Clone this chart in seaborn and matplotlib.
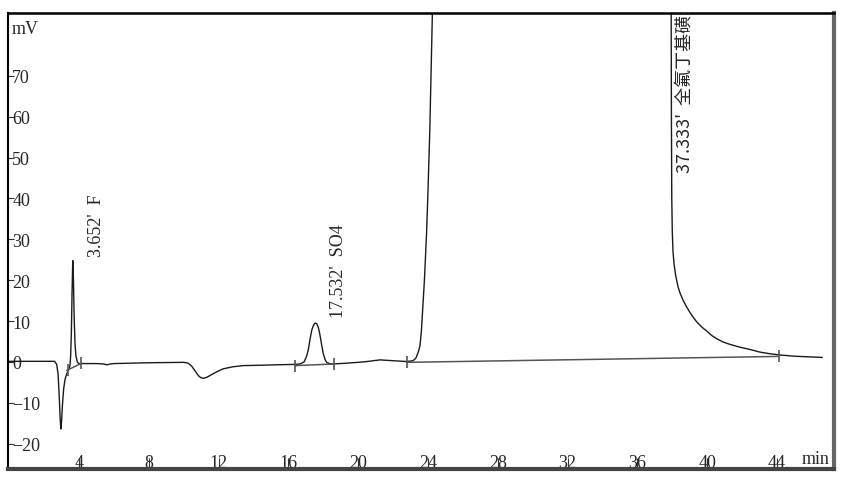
import numpy as np
import pandas as pd
import matplotlib
matplotlib.use("Agg")
import matplotlib.pyplot as plt
import seaborn as sns

sns.set_style("white")
plt.rcParams["font.family"] = ["Liberation Serif", "DejaVu Serif"]

# chromatogram trace (time in min, signal in mV)
time_min = [0.0, 2.6, 2.72, 2.8, 2.86, 2.92, 2.96, 3.0, 3.05, 3.12, 3.2,
            3.3, 3.4, 3.48, 3.52, 3.56, 3.6, 3.64, 3.68, 3.72, 3.77, 3.82,
            3.9, 3.98, 4.3, 5.0, 5.4, 5.6, 5.8, 6.0, 8.0, 10.0, 10.25, 10.45,
            10.65, 10.85, 11.0, 11.15, 11.35, 11.6, 11.9, 12.25, 12.8, 13.4,
            14.5, 15.3, 16.4, 16.67, 16.9, 17.05, 17.15, 17.24, 17.34, 17.43,
            17.5, 17.56, 17.63, 17.71, 17.78, 17.85, 17.92, 18.0, 18.1, 18.19,
            18.35, 18.57, 19.34, 20.0, 20.5, 21.25, 22.0, 22.78, 23.14, 23.3,
            23.45, 23.54, 23.62, 23.73, 23.8, 23.92, 24.0, 24.1, 24.25, 24.5,
            37.9, 37.95, 37.97, 38.0, 38.04, 38.1, 38.2, 38.34, 38.45, 38.61,
            38.8, 39.0, 39.2, 39.4, 39.7, 39.96, 40.25, 40.54, 40.9, 41.3,
            41.88, 42.5, 43.03, 43.6, 44.17, 45.0, 45.8, 46.6]
signal_mv = [0.15, 0.15, -0.6, -3.0, -8.0, -14.0, -16.4, -14.5, -10.5, -6.5,
             -4.2, -2.9, -1.9, -0.9, 1.5, 7.0, 17.0, 24.8, 20.0, 11.0, 4.5,
             1.5, 0.0, -0.4, -0.4, -0.4, -0.5, -0.7, -0.5, -0.4, -0.2, -0.1,
             -0.3, -1.0, -2.2, -3.4, -3.9, -4.0, -3.7, -3.1, -2.4, -1.7,
             -1.2, -0.9, -0.8, -0.7, -0.6, -0.5, 0.0, 1.5, 3.2, 5.6, 7.8,
             8.9, 9.4, 9.5, 9.3, 8.5, 7.2, 5.6, 3.8, 2.0, 0.6, -0.1, -0.4,
             -0.5, -0.3, -0.1, 0.1, 0.5, 0.3, 0.1, 0.3, 0.9, 2.5, 4.0, 7.5,
             15.4, 20.5, 31.8, 42.0, 56.3, 85.2, 150.0, 150.0, 60.0, 40.0,
             32.0, 27.0, 24.0, 21.0, 18.2, 16.8, 15.2, 13.6, 12.2, 10.9,
             9.8, 8.5, 7.6, 6.5, 5.7, 4.9, 4.3, 3.6, 3.0, 2.4, 2.0, 1.7, 1.4,
             1.25, 1.1]

# integration baselines (start / end points)
bl_start_t = [3.29, 16.38, 22.77]
bl_start_v = [-2.1, -0.9, -0.1]
bl_end_t = [4.15, 18.63, 44.1]
bl_end_v = [-0.3, -0.5, 1.35]
mark_t = [3.37, 4.12, 16.38, 18.63, 22.77, 44.1]
mark_v = [-1.9, -0.3, -0.9, -0.5, -0.1, 1.35]

# peak labels
peak_rt = [3.652, 17.532, 37.333]
peak_name = ["F", "SO4", "全氟丁基磺酸"]
label_y = [26.0, 11.0, 46.5]

df = pd.DataFrame({"t": time_min, "mv": signal_mv})

fig = plt.figure(figsize=(8.44, 4.81), dpi=100)
ax = fig.add_axes([0.0095, 0.0229, 0.9787, 0.9480])

sns.lineplot(data=df, x="t", y="mv", estimator=None, sort=False,
             color="#1a1a1a", linewidth=1.0, ax=ax)

for x0, y0, x1, y1 in zip(bl_start_t, bl_start_v, bl_end_t, bl_end_v):
    ax.plot([x0, x1], [y0, y1], color="#555555", linewidth=1.1)
ax.plot(mark_t, mark_v, "|", color="#555555", markersize=9, markeredgewidth=1.2)

for rt, name, ly in zip(peak_rt, peak_name, label_y):
    txt = f"{rt:.3f}'  {name}"
    if name == "全氟丁基磺酸":
        # runs past the top of the frame, clipped as in the instrument print
        ax.text(rt + 1.34, ly, txt, rotation=90, ha="center", va="bottom",
                fontsize=13, family=["Noto Sans CJK SC", "DejaVu Sans"],
                clip_on=True)
    else:
        ax.text(rt + 1.35, ly, txt, rotation=90, ha="center", va="bottom",
                fontsize=13)

ax.set_xlim(-0.07, 47.27)
ax.set_ylim(-26.2, 85.4)
ax.set_xticks(np.arange(4, 45, 4))
ax.set_yticks(np.arange(-20, 71, 10))
ax.set_xlabel("")
ax.set_ylabel("")

ax.tick_params(axis="y", direction="in", length=4, width=0.8, pad=-3,
               labelsize=13, left=True, color="#333333")
ax.tick_params(axis="x", direction="in", length=8, width=0.8, pad=-11,
               labelsize=13, bottom=True, color="#333333")
for lab in ax.get_yticklabels():
    lab.set_horizontalalignment("left")

ax.text(0.005, 0.965, "mV", transform=ax.transAxes, ha="left", va="center",
        fontsize=13)
ax.text(0.978, 0.024, "min", transform=ax.transAxes, ha="center",
        va="center", fontsize=13)

ax.spines["top"].set_linewidth(1.8)
ax.spines["top"].set_color("black")
ax.spines["left"].set_linewidth(1.5)
ax.spines["left"].set_color("black")
ax.spines["right"].set_linewidth(3)
ax.spines["right"].set_color("#666666")
ax.spines["bottom"].set_linewidth(3)
ax.spines["bottom"].set_color("#444444")

fig.savefig("out.png", dpi=100)
